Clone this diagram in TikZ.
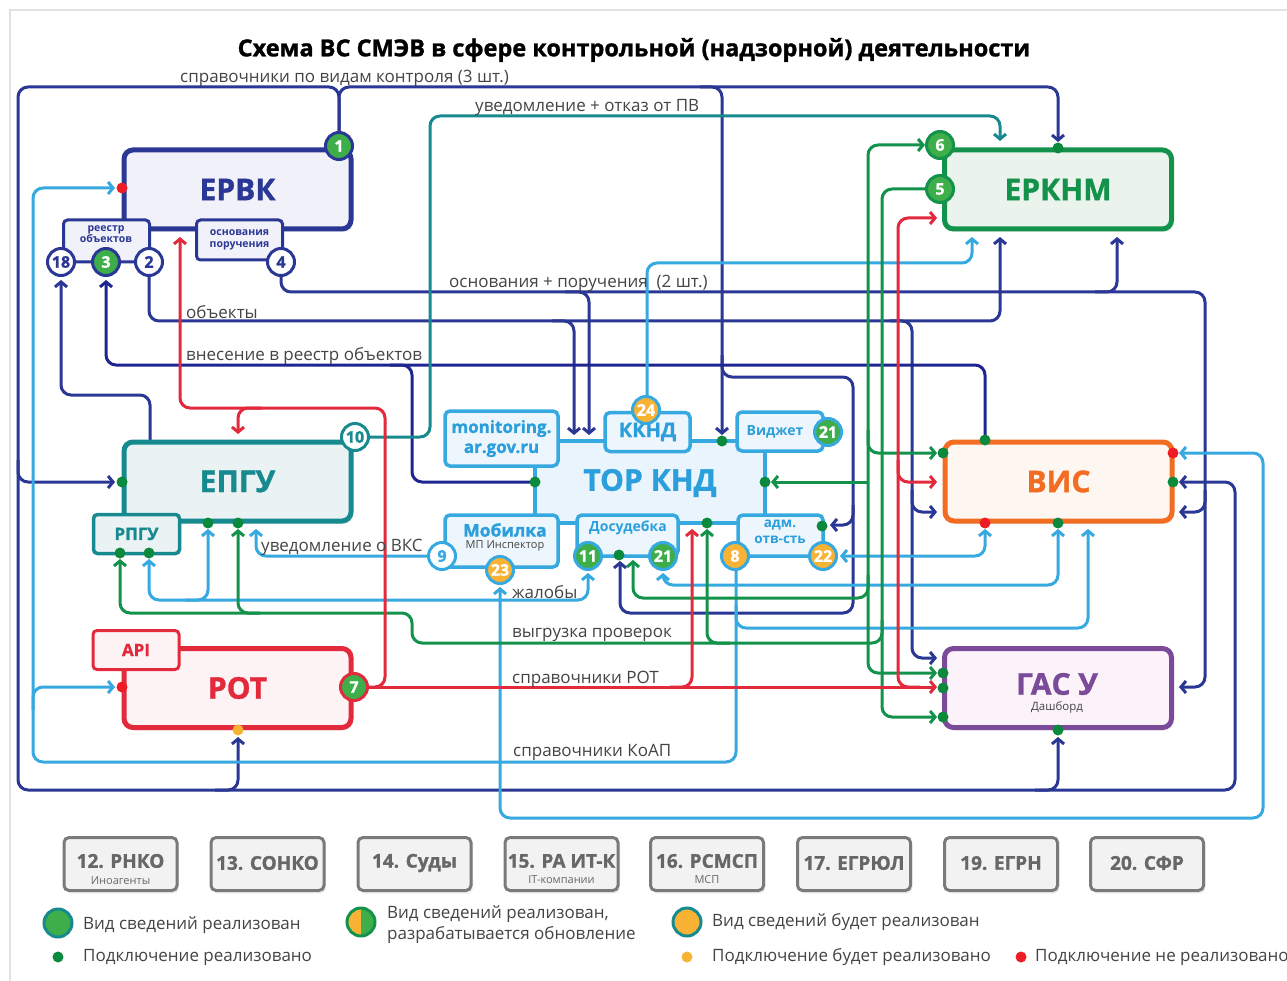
\documentclass[tikz,border=0pt]{standalone}
\usepackage{fontspec}
\setmainfont{Open Sans}
\newfontfamily\xbold{Open Sans}[BoldFeatures={FakeBold=1.2}]
\usetikzlibrary{arrows.meta,shadows}
\definecolor{navy}{HTML}{2B3794}
\definecolor{navyd}{HTML}{1F2590}
\definecolor{cteal}{HTML}{168A8E}
\definecolor{clb}{HTML}{36A9E1}
\definecolor{cgr}{HTML}{12924A}
\definecolor{cred}{HTML}{E22A3C}
\definecolor{corange}{HTML}{F26C22}
\definecolor{cpurple}{HTML}{7B4B9A}
\definecolor{bgreen}{HTML}{3DAE49}
\definecolor{dgreen}{HTML}{0B8A3E}
\definecolor{dred}{HTML}{EE1C25}
\definecolor{dyel}{HTML}{F8B334}
\definecolor{torblue}{HTML}{2A9FDB}
\definecolor{labgray}{HTML}{444444}
\definecolor{ervkfill}{HTML}{F1F1FA}
\definecolor{epgufill}{HTML}{EAF2F3}
\definecolor{rotfill}{HTML}{FDF3F5}
\definecolor{erknmfill}{HTML}{EAF4EC}
\definecolor{visfill}{HTML}{FDF6F1}
\definecolor{gasfill}{HTML}{FBF3F9}
\definecolor{torfill}{HTML}{EAF4FC}
\definecolor{subfill}{HTML}{EEF6FD}
\definecolor{grayfill}{HTML}{F2F2F2}
\definecolor{boxgray}{HTML}{7A7A7A}
\definecolor{textgray}{HTML}{676767}
\definecolor{framegray}{HTML}{E2E2E2}
\tikzset{
  mainbox/.style={draw, line width=5pt, rounded corners=9pt, minimum width=227pt, minimum height=79pt, inner sep=0pt, font=\fontsize{30}{32}\selectfont\xbold\bfseries, drop shadow={opacity=0.12, shadow xshift=2pt, shadow yshift=-3pt}},
  smallbox/.style={line width=3pt, rounded corners=4pt, inner sep=0pt, align=center},
  subbox/.style={draw=clb, fill=subfill, line width=3.5pt, rounded corners=5pt, inner sep=0pt, text=torblue, align=center},
  badge/.style={circle, line width=3pt, minimum size=27pt, inner sep=0pt, font=\fontsize{16}{16}\selectfont\xbold\bfseries, text=white},
  dotn/.style={circle, inner sep=0pt, minimum size=11pt},
  conn/.style={line width=3pt, rounded corners=10pt},
  lbl/.style={anchor=west, inner sep=0pt, text=labgray, font=\fontsize{17}{19}\selectfont},
  graybox/.style={draw=boxgray, fill=grayfill, line width=3pt, rounded corners=5pt, minimum width=113pt, minimum height=53pt, inner sep=0pt, drop shadow={opacity=0.12, shadow xshift=2pt, shadow yshift=-3pt}},
  graytxt/.style={text=textgray, inner sep=0pt, font=\fontsize{19}{21}\selectfont\xbold\bfseries},
  graysub/.style={text=textgray, inner sep=0pt, font=\fontsize{11}{12}\selectfont},
  legtxt/.style={anchor=west, inner sep=0pt, text=labgray, font=\fontsize{17}{21}\selectfont, align=left}
}
\begin{document}
\begin{tikzpicture}[x=1pt,y=-1pt,>={Straight Barb[length=5pt,width=12pt]}]
\useasboundingbox (0,0) rectangle (1287,981);
\fill[white] (0,0) rectangle (1287,981);
\draw[framegray, line width=1.5pt] (10,981) -- (10,10) -- (1287,10);

% title
\node[inner sep=0pt, font=\fontsize{23.5}{26}\selectfont\xbold\bfseries] (title) at (634,50) {Схема ВС СМЭВ в сфере контрольной (надзорной) деятельности};

% ---------------- connectors ----------------
% navy: справочники по видам контроля
\draw[conn,navy,->] (339,132) -- (339,87) -- (18,87) -- (18,790) -- (1235,790) -- (1235,482) -- (1179,482);
\draw[conn,navy,->] (339,132) -- (339,87) -- (1058,87) -- (1058,142);
\draw[conn,navy,->] (700,87) -- (722,87) -- (722,435);
\draw[conn,navy,->] (722,355) -- (722,377) -- (853,377) -- (853,525) -- (830,525);
\draw[conn,navy,->] (853,505) -- (853,613) -- (620,613) -- (620,561);
\draw[conn,navy,->] (18,460) -- (18,482) -- (115,482);
\draw[conn,navy,->] (215,790) -- (238,790) -- (238,737);
\draw[conn,navy,->] (1035,790) -- (1058,790) -- (1058,737);
% navy: основания + поручения
\draw[conn,navy,->] (281,276) -- (281,292) -- (1205,292) -- (1205,687) -- (1179,687);
\draw[conn,navy,->] (565,292) -- (589,292) -- (589,435);
\draw[conn,navy,->] (1095,292) -- (1117,292) -- (1117,237);
\draw[conn,navy,->] (1205,490) -- (1205,512) -- (1179,512);
% navy: объекты
\draw[conn,navy,->] (149,276) -- (149,321) -- (1000,321) -- (1000,237);
\draw[conn,navy,->] (552,321) -- (574,321) -- (574,435);
\draw[conn,navy,->] (890,321) -- (912,321) -- (912,658) -- (937,658);
\draw[conn,navy,->] (912,490) -- (912,512) -- (937,512);
% navy: внесение в реестр объектов
\draw[conn,navyd,->] (985,440) -- (985,365) -- (106,365) -- (106,280);
\draw[conn,navyd] (390,365) -- (412,365) -- (412,482) -- (535,482);
\draw[conn,navy,->] (150,440) -- (150,395) -- (61,395) -- (61,280);
% teal
\draw[conn,cteal,->] (369,437) -- (430,437) -- (430,116) -- (1000,116) -- (1000,141);
% light blue
\draw[conn,clb,->] (736,570) -- (736,762) -- (33,762) -- (33,188) -- (115,188);
\draw[conn,clb,->] (33,710) -- (33,687) -- (115,687);
\draw[conn,clb,->] (736,605) -- (736,628) -- (1088,628) -- (1088,529);
\draw[conn,clb,->] (647,396) -- (647,263) -- (972,263) -- (972,237);
\draw[conn,clb,->] (428,556) -- (256,556) -- (256,529);
\draw[conn,clb,<->] (149,559) -- (149,600) -- (588,600) -- (588,573);
\draw[conn,clb,->] (185,600) -- (208,600) -- (208,529);
\draw[conn,clb,<->] (500,587) -- (500,818) -- (1263,818) -- (1263,453) -- (1179,453);
\draw[conn,clb,<->] (840,556) -- (985,556) -- (985,529);
\draw[conn,clb,<->] (663,573) -- (663,585) -- (1058,585) -- (1058,529);
% green
\draw[conn,cgr,<->] (925,145) -- (868,145) -- (868,673) -- (937,673);
\draw[conn,cgr,->] (868,430) -- (868,453) -- (937,453);
\draw[conn,cgr,->] (868,482) -- (771,482);
\draw[conn,cgr,->] (868,575) -- (868,598) -- (633,598) -- (633,560);
\draw[conn,cgr,->] (926,189) -- (882,189) -- (882,717) -- (937,717);
\draw[conn,cgr,->] (882,620) -- (882,643) -- (412,643) -- (412,613) -- (120,613) -- (120,559);
\draw[conn,cgr,->] (260,613) -- (238,613) -- (238,529);
\draw[conn,cgr,->] (730,643) -- (707,643) -- (707,529);
% red
\draw[conn,cred,->] (368,687) -- (937,687);
\draw[conn,cred,->] (368,687) -- (385,687) -- (385,408) -- (180,408) -- (180,237);
\draw[conn,cred,->] (262,408) -- (238,408) -- (238,434);
\draw[conn,cred,->] (670,687) -- (692,687) -- (692,529);
\draw[conn,cred,->] (920,687) -- (898,687) -- (898,218) -- (937,218);
\draw[conn,cred,->] (898,460) -- (898,482) -- (937,482);

% ---------------- main boxes ----------------
\node[mainbox, draw=navy, fill=ervkfill, text=navy] (ervk) at (237.5,189.5) {ЕРВК};
\node[smallbox, draw=navy, fill=ervkfill, minimum width=86pt, minimum height=42pt] (reestr) at (106.5,241) {};
\node[text=navy, inner sep=0pt, align=center, font=\fontsize{10.5}{11}\selectfont\bfseries] (reestrt) at (106,234) {реестр\\объектов};
\node[smallbox, draw=navy, fill=ervkfill, minimum width=86pt, minimum height=40pt, text=navy, font=\fontsize{10.5}{11.5}\selectfont\bfseries] (osn) at (239.5,240) {основания\\поручения};

\node[mainbox, draw=cteal, fill=epgufill, text=cteal] (epgu) at (237.5,481.5) {ЕПГУ};
\node[smallbox, draw=cteal, fill=epgufill, line width=3.5pt, minimum width=86pt, minimum height=39pt, text=cteal, font=\fontsize{17}{18}\selectfont\xbold\bfseries] (rpgu) at (136.5,534) {РПГУ};

\node[mainbox, draw=cred, fill=rotfill, text=cred] (rot) at (237.5,688) {РОТ};
\node[smallbox, draw=cred, fill=rotfill, line width=3pt, minimum width=86pt, minimum height=39pt, text=cred, font=\fontsize{17}{18}\selectfont\xbold\bfseries] (api) at (136,650) {API};

\node[mainbox, draw=cgr, fill=erknmfill, text=cgr] (erknm) at (1058,189.5) {ЕРКНМ};
\node[mainbox, draw=corange, fill=visfill, text=corange] (vis) at (1058.5,481.5) {ВИС};
\node[mainbox, draw=cpurple, fill=gasfill] (gas) at (1058,688) {};
\node[inner sep=0pt, text=cpurple, font=\fontsize{30}{32}\selectfont\xbold\bfseries] (gast) at (1057,684) {ГАС У};
\node[inner sep=0pt, text=labgray, font=\fontsize{11.5}{12}\selectfont] (gass) at (1057,707) {Дашборд};

% ТОР КНД
\node[draw=clb, fill=torfill, line width=4pt, minimum width=230pt, minimum height=82pt, inner sep=0pt] (tor) at (650,482) {};
\node[inner sep=0pt, text=torblue, font=\fontsize{30}{32}\selectfont\xbold\bfseries] (tort) at (650,483) {ТОР КНД};
\node[subbox, minimum width=113pt, minimum height=55pt, font=\fontsize{17}{20}\selectfont\xbold\bfseries] (mon) at (501.5,438.5) {monitoring.\\ar.gov.ru};
\node[subbox, minimum width=85pt, minimum height=39pt, font=\fontsize{20}{22}\selectfont\xbold\bfseries] (kknd) at (647.5,432) {ККНД};
\node[subbox, minimum width=86pt, minimum height=39pt, font=\fontsize{14}{15}\selectfont\bfseries] (vidj) at (780,431.5) {Виджет\hspace{10pt}};
\node[subbox, minimum width=113pt, minimum height=52pt] (mob) at (501.5,541) {};
\node[inner sep=0pt, text=torblue, font=\fontsize{17.5}{18}\selectfont\xbold\bfseries] (mobt) at (505,530) {Мобилка};
\node[inner sep=0pt, text=labgray, font=\fontsize{11}{12}\selectfont] (mobs) at (505,546) {МП Инспектор};
\node[subbox, minimum width=101pt, minimum height=41pt] (dos) at (627.5,535.5) {};
\node[inner sep=0pt, text=torblue, font=\fontsize{14}{15}\selectfont\bfseries] (dost) at (628,528) {Досудебка};
\node[subbox, minimum width=85pt, minimum height=41pt] (adm) at (780.5,535.5) {};
\node[inner sep=0pt, text=torblue, align=center, font=\fontsize{13.5}{16}\selectfont\bfseries] (admt) at (780,532) {адм.\\отв-сть};

% ---------------- badges ----------------
\node[badge, fill=bgreen, draw=navy] (b1) at (339,146) {1};
\node[badge, fill=white, draw=navy, text=navy] (b18) at (61,262) {18};
\node[badge, fill=bgreen, draw=navy] (b3) at (106,262) {3};
\node[badge, fill=white, draw=navy, text=navy] (b2) at (149,262) {2};
\node[badge, fill=white, draw=navy, text=navy] (b4) at (281,262) {4};
\node[badge, fill=white, draw=cteal, text=cteal] (b10) at (355,437) {10};
\node[badge, fill=bgreen, draw=cred] (b7) at (354,687) {7};
\node[badge, fill=bgreen, draw=cgr] (b6) at (940,145) {6};
\node[badge, fill=bgreen, draw=cgr] (b5) at (940,189) {5};
\node[badge, fill=dyel, draw=clb] (b24) at (646,410) {24};
\node[badge, fill=bgreen, draw=clb] (b21w) at (828,432) {21};
\node[badge, fill=white, draw=clb, text=clb] (b9) at (442,556) {9};
\node[badge, fill=dyel, draw=clb] (b23) at (500,570) {23};
\node[badge, fill=bgreen, draw=clb] (b11) at (588,556) {11};
\node[badge, fill=bgreen, draw=clb] (b21d) at (663,556) {21};
\node[badge, fill=dyel, draw=clb] (b8) at (735,556) {8};
\node[badge, fill=dyel, draw=clb] (b22) at (823,556) {22};

% ---------------- dots ----------------
\node[dotn, fill=dred] (d1) at (122,188) {};
\node[dotn, fill=dgreen] (d2) at (122,482) {};
\node[dotn, fill=dgreen] (d3) at (208,523) {};
\node[dotn, fill=dgreen] (d4) at (238,523) {};
\node[dotn, fill=dgreen] (d5) at (120,553) {};
\node[dotn, fill=dgreen] (d6) at (149,553) {};
\node[dotn, fill=dred] (d7) at (122,687) {};
\node[dotn, fill=dyel] (d8) at (238,730) {};
\node[dotn, fill=dgreen] (d9) at (535,482) {};
\node[dotn, fill=dgreen] (d10) at (722,441) {};
\node[dotn, fill=dgreen] (d11) at (765,482) {};
\node[dotn, fill=dgreen] (d12) at (707,523) {};
\node[dotn, fill=dgreen] (d13) at (822,526) {};
\node[dotn, fill=dgreen] (d14) at (619,555) {};
\node[dotn, fill=dgreen] (d15) at (1058,148) {};
\node[dotn, fill=dgreen] (d16) at (985,440) {};
\node[dotn, fill=dgreen] (d17) at (943,453) {};
\node[dotn, fill=dred] (d18) at (1173,453) {};
\node[dotn, fill=dgreen] (d19) at (1173,482) {};
\node[dotn, fill=dred] (d20) at (985,523) {};
\node[dotn, fill=dgreen] (d21) at (1058,523) {};
\node[dotn, fill=dgreen] (d22) at (943,673) {};
\node[dotn, fill=dgreen] (d23) at (943,688) {};
\node[dotn, fill=dgreen] (d24) at (943,717) {};
\node[dotn, fill=dgreen] (d25) at (1058,730) {};

% ---------------- labels ----------------
\node[lbl] (l1) at (180,78) {справочники по видам контроля (3 шт.)};
\node[lbl] (l2) at (475,107) {уведомление + отказ от ПВ};
\node[lbl] (l3) at (449,283) {основания + поручения \ (2 шт.)};
\node[lbl] (l4) at (186,312) {объекты};
\node[lbl] (l5) at (186,356) {внесение в реестр объектов};
\node[lbl] (l6) at (261,547) {уведомление о ВКС};
\node[lbl] (l7) at (512,592) {жалобы};
\node[lbl] (l8) at (512,635) {выгрузка проверок};
\node[lbl] (l9) at (512,679) {справочники РОТ};
\node[lbl] (l10) at (513,752) {справочники КоАП};

% ---------------- bottom boxes ----------------
\node[graybox] (g12) at (120.5,864) {};
\node[graytxt] at (120.5,861) {12. РНКО};
\node[graysub] at (120.5,881) {Иноагенты};
\node[graybox] (g13) at (267.5,864) {};
\node[graytxt] at (267.5,863) {13. СОНКО};
\node[graybox] (g14) at (414.5,864) {};
\node[graytxt] at (414.5,863) {14. Суды};
\node[graybox] (g15) at (561.5,864) {};
\node[graytxt] at (561.5,861) {15. РА ИТ-К};
\node[graysub] at (561.5,880) {IT-компании};
\node[graybox] (g16) at (707,864) {};
\node[graytxt] at (707,861) {16. РСМСП};
\node[graysub] at (707,880) {МСП};
\node[graybox] (g17) at (854,864) {};
\node[graytxt] at (854,863) {17. ЕГРЮЛ};
\node[graybox] (g19) at (1001,864) {};
\node[graytxt] at (1001,863) {19. ЕГРН};
\node[graybox] (g20) at (1147,864) {};
\node[graytxt] at (1147,863) {20. СФР};

% ---------------- legend ----------------
\node[circle, fill=bgreen, draw=cteal, line width=3pt, minimum size=28pt, inner sep=0pt] (lg1) at (58,923) {};
\node[legtxt] at (83,925) {Вид сведений реализован};
\node[dotn, fill=dgreen] (lg1d) at (58,957) {};
\node[legtxt] at (83,957) {Подключение реализовано};
\begin{scope}
\clip (340,900) rectangle (361,945);
\fill[dyel] (361,922) circle (14);
\end{scope}
\begin{scope}
\clip (361,900) rectangle (382,945);
\fill[bgreen] (361,922) circle (14);
\end{scope}
\node[circle, draw=cgr, line width=3pt, minimum size=28pt, inner sep=0pt] (lg2) at (361,922) {};
\node[legtxt] at (387,925) {Вид сведений реализован,\\разрабатывается обновление};
\node[circle, fill=dyel, draw=cteal, line width=3pt, minimum size=28pt, inner sep=0pt] (lg3) at (687,922) {};
\node[legtxt] at (712,922) {Вид сведений будет реализован};
\node[dotn, fill=dyel] (lg3d) at (687,957) {};
\node[legtxt] at (712,957) {Подключение будет реализовано};
\node[dotn, fill=dred] (lg4d) at (1021,957) {};
\node[legtxt] at (1035,957) {Подключение не реализовано};
\end{tikzpicture}
\end{document}
